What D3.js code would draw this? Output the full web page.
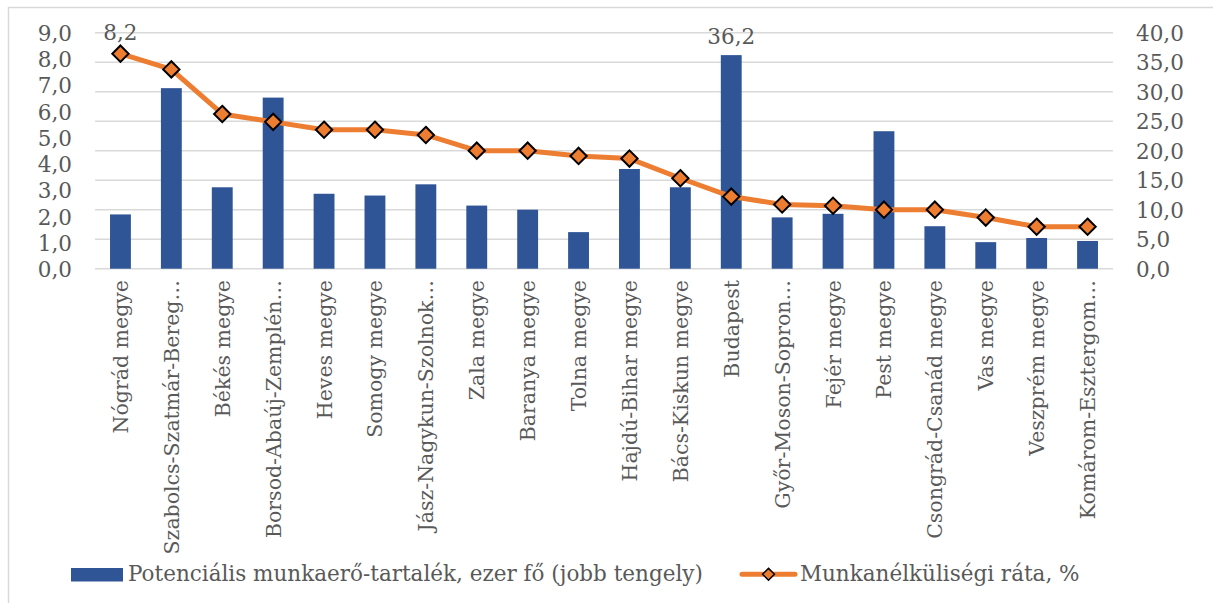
<!DOCTYPE html>
<html>
<head>
<meta charset="utf-8">
<script src="https://cdn.jsdelivr.net/npm/d3@7"></script>
<style>
  body { margin: 0; background: #fff; }
  svg text { font-family: "DejaVu Serif", serif; fill: #595959; }
</style>
</head>
<body>
<div id="chart"></div>
<script>
// county names as shown on the axis (Excel cut the long ones)
const counties = ["Nógrád megye", "Szabolcs-Szatmár-Bereg…", "Békés megye", "Borsod-Abaúj-Zemplén…",
    "Heves megye", "Somogy megye", "Jász-Nagykun-Szolnok…", "Zala megye", "Baranya megye",
    "Tolna megye", "Hajdú-Bihar megye", "Bács-Kiskun megye", "Budapest", "Győr-Moson-Sopron…",
    "Fejér megye", "Pest megye", "Csongrád-Csanád megye", "Vas megye", "Veszprém megye",
    "Komárom-Esztergom…"];

// potential labour reserve, thousand people (right axis)
const reserve = [9.2, 30.6, 13.8, 29.0, 12.7, 12.4, 14.3, 10.7, 10.0, 6.2,
    16.9, 13.8, 36.2, 8.7, 9.3, 23.3, 7.2, 4.5, 5.2, 4.7];

// unemployment rate, % (left axis)
const rate = [8.2, 7.6, 5.9, 5.6, 5.3, 5.3, 5.1, 4.5, 4.5, 4.3,
    4.2, 3.45, 2.75, 2.45, 2.4, 2.25, 2.25, 1.95, 1.6, 1.6];

const leftTicks = [0, 1, 2, 3, 4, 5, 6, 7, 8, 9];
const rightTicks = [0, 5, 10, 15, 20, 25, 30, 35, 40];

const seriesNames = ["Potenciális munkaerő-tartalék, ezer fő (jobb tengely)", "Munkanélküliségi ráta, %"];

const width = 1213, height = 603;
const plotLeft = 95, plotRight = 1113, plotTop = 32.7, plotBottom = 268.7;
const fontSize = 21.5;
const fmt = v => v.toFixed(1).replace(".", ",");

const svg = d3.select("#chart").append("svg")
    .attr("width", width)
    .attr("height", height);

// chart border (only left/top visible in the crop)
svg.append("rect")
    .attr("x", 8.5).attr("y", 7.5)
    .attr("width", 1300).attr("height", 700)
    .attr("fill", "none")
    .attr("stroke", "#d9d9d9")
    .attr("stroke-width", 1.5);

const x = d3.scaleBand()
    .domain(counties)
    .range([plotLeft, plotRight])
    .paddingInner(0.59)
    .paddingOuter(0.295);

const yLeft = d3.scaleLinear().domain([0, 9]).range([plotBottom, plotTop]);
const yRight = d3.scaleLinear().domain([0, 40]).range([plotBottom, plotTop]);

// gridlines follow the right axis
svg.append("g")
    .selectAll("line")
    .data(rightTicks)
    .enter().append("line")
    .attr("x1", plotLeft).attr("x2", plotRight)
    .attr("y1", d => yRight(d)).attr("y2", d => yRight(d))
    .attr("stroke", "#d9d9d9")
    .attr("stroke-width", 1.5);

const leftAxis = svg.append("g")
    .attr("transform", `translate(72,0)`)
    .call(d3.axisLeft(yLeft).tickValues(leftTicks).tickFormat(fmt).tickSize(0).tickPadding(0));
leftAxis.select(".domain").remove();

const rightAxis = svg.append("g")
    .attr("transform", `translate(1136,0)`)
    .call(d3.axisRight(yRight).tickValues(rightTicks).tickFormat(fmt).tickSize(0).tickPadding(0));
rightAxis.select(".domain").remove();

svg.selectAll(".tick text")
    .attr("font-size", fontSize)
    .attr("dy", "0.36em");

// bars
svg.append("g")
    .selectAll("rect")
    .data(reserve)
    .enter().append("rect")
    .attr("x", (d, i) => x(counties[i]))
    .attr("width", x.bandwidth())
    .attr("y", d => yRight(d))
    .attr("height", d => plotBottom - yRight(d))
    .attr("fill", "#2f5597");

// line
const line = d3.line()
    .x((d, i) => x(counties[i]) + x.bandwidth() / 2)
    .y(d => yLeft(d));

svg.append("path")
    .datum(rate)
    .attr("d", line)
    .attr("fill", "none")
    .attr("stroke", "#ed7d31")
    .attr("stroke-width", 5)
    .attr("stroke-linejoin", "round");

const diamond = d3.symbol().type(d3.symbolDiamond2).size(170);

svg.append("g")
    .selectAll("path")
    .data(rate)
    .enter().append("path")
    .attr("d", diamond)
    .attr("transform", (d, i) => `translate(${x(counties[i]) + x.bandwidth() / 2},${yLeft(d)})`)
    .attr("fill", "#ed7d31")
    .attr("stroke", "#000")
    .attr("stroke-width", 2);

// data labels for the first point and the tallest bar
svg.append("text")
    .attr("x", x(counties[0]) + x.bandwidth() / 2)
    .attr("y", yLeft(rate[0]) - 14)
    .attr("text-anchor", "middle")
    .attr("font-size", fontSize)
    .text(fmt(rate[0]));

const maxIdx = d3.maxIndex(reserve);
svg.append("text")
    .attr("x", x(counties[maxIdx]) + x.bandwidth() / 2)
    .attr("y", yRight(reserve[maxIdx]) - 11)
    .attr("text-anchor", "middle")
    .attr("font-size", fontSize)
    .text(fmt(reserve[maxIdx]));

// category labels, rotated
svg.append("g")
    .selectAll("text")
    .data(counties)
    .enter().append("text")
    .attr("transform", d => `translate(${x(d) + x.bandwidth() / 2 + 7.5},280) rotate(-90)`)
    .attr("text-anchor", "end")
    .attr("font-size", 20.5)
    .text(d => d);

// legend
const legend = svg.append("g");
legend.append("rect")
    .attr("x", 71).attr("y", 568)
    .attr("width", 52).attr("height", 13.5)
    .attr("fill", "#2f5597");
legend.append("text")
    .attr("x", 128).attr("y", 581)
    .attr("font-size", fontSize)
    .text(seriesNames[0]);

legend.append("line")
    .attr("x1", 742).attr("x2", 795)
    .attr("y1", 574.3).attr("y2", 574.3)
    .attr("stroke", "#ed7d31")
    .attr("stroke-width", 5)
    .attr("stroke-linecap", "round");
legend.append("path")
    .attr("d", d3.symbol().type(d3.symbolDiamond2).size(90))
    .attr("transform", "translate(768.5,574.3)")
    .attr("fill", "#ed7d31")
    .attr("stroke", "#000")
    .attr("stroke-width", 1.5);
legend.append("text")
    .attr("x", 800).attr("y", 581)
    .attr("font-size", fontSize)
    .text(seriesNames[1]);
</script>
</body>
</html>
